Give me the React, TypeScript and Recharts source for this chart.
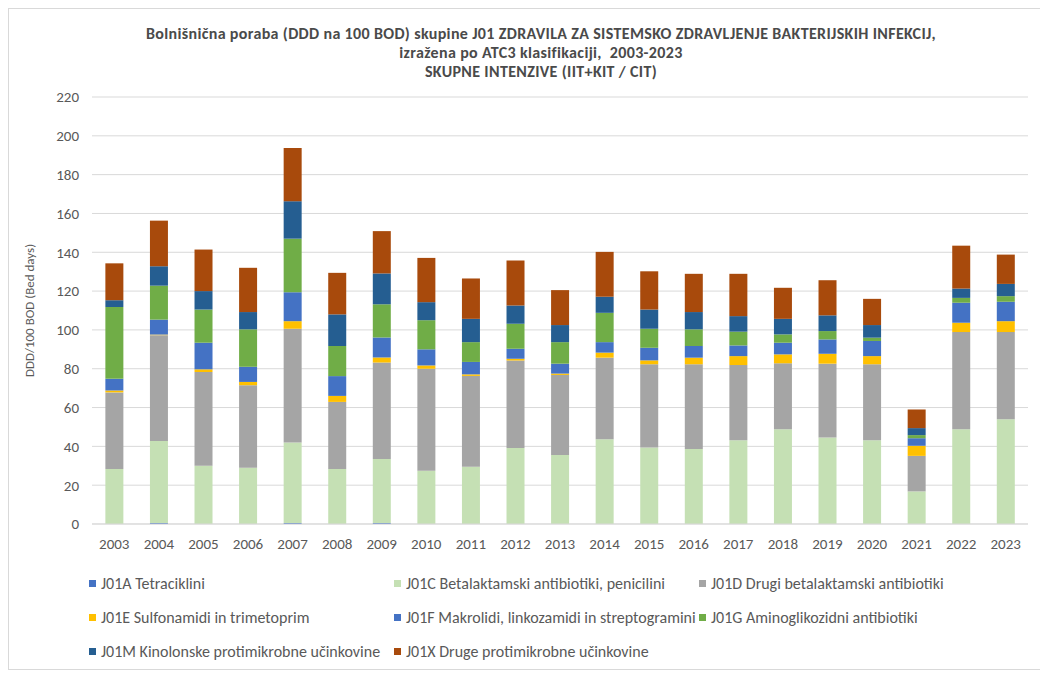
import React from 'react';
import { BarChart, Bar, XAxis, YAxis, CartesianGrid, Label } from 'recharts';

const years = ['2003','2004','2005','2006','2007','2008','2009','2010','2011','2012','2013','2014','2015','2016','2017','2018','2019','2020','2021','2022','2023'];
const j01a = [0, 0.5, 0, 0, 0.5, 0, 0.5, 0, 0, 0, 0, 0, 0, 0, 0, 0, 0, 0, 0, 0, 0];
const j01c = [28.3, 42.3, 30, 29, 41.5, 28.3, 33, 27.4, 29.5, 39.1, 35.5, 43.7, 39.4, 38.6, 43.2, 48.8, 44.6, 43.2, 16.8, 48.8, 54];
const j01d = [39.5, 54.5, 48.3, 42.5, 58.6, 34.6, 49.7, 52.6, 46.8, 45.2, 41.3, 42, 42.9, 43.7, 38.7, 34, 38, 39.1, 18.3, 50.1, 44.9];
const j01e = [1, 0.3, 1.4, 1.7, 3.9, 3.1, 2.6, 1.7, 0.8, 0.9, 0.7, 2.6, 2, 3.4, 4.6, 4.6, 5.1, 4.2, 5.2, 4.8, 5.6];
const j01f = [6, 7.7, 13.7, 7.8, 14.9, 10.2, 10.3, 8.3, 6.4, 5.1, 5.1, 5.4, 6.5, 6, 5.5, 6, 7.4, 7.8, 3.9, 10.3, 10];
const j01g = [37, 17.5, 17.1, 19.3, 27.6, 15.5, 17.1, 15, 10.2, 12.9, 11.1, 15.1, 9.8, 8.6, 7.1, 4.3, 4.3, 1.7, 1.6, 2.5, 2.9];
const j01m = [3.5, 10, 9.5, 8.9, 19.3, 16.3, 15.9, 9.3, 12, 9.4, 8.8, 8.3, 9.9, 8.9, 8, 8, 8.1, 6.5, 3.6, 4.8, 6.3];
const j01x = [19, 23.5, 21.4, 22.8, 27.4, 21.4, 21.8, 22.8, 20.8, 23.1, 18, 23.1, 19.7, 19.7, 21.8, 16, 18.1, 13.5, 9.6, 22.1, 15.1];

const yTicks = [0, 20, 40, 60, 80, 100, 120, 140, 160, 180, 200, 220];

const series = [
  { key: 'a', name: 'J01A Tetraciklini', color: '#4472C4', values: j01a },
  { key: 'c', name: 'J01C Betalaktamski antibiotiki, penicilini', color: '#C5E0B4', values: j01c },
  { key: 'd', name: 'J01D Drugi betalaktamski antibiotiki', color: '#A5A5A5', values: j01d },
  { key: 'e', name: 'J01E Sulfonamidi in trimetoprim', color: '#FFC000', values: j01e },
  { key: 'f', name: 'J01F Makrolidi, linkozamidi in streptogramini', color: '#4472C4', values: j01f },
  { key: 'g', name: 'J01G Aminoglikozidni antibiotiki', color: '#70AD47', values: j01g },
  { key: 'm', name: 'J01M Kinolonske protimikrobne učinkovine', color: '#255E91', values: j01m },
  { key: 'x', name: 'J01X Druge protimikrobne učinkovine', color: '#A84A0C', values: j01x },
];

const data = years.map((y, i) => {
  const row: any = { year: y };
  series.forEach(s => { row[s.key] = s.values[i]; });
  return row;
});

const font = 'Calibri, Carlito, Lato, "Open Sans", sans-serif';

export default function App() {
  return (
    <div style={{ position: 'relative', width: 1032, height: 660, border: '1px solid #d9d9d9', background: '#fff', fontFamily: font }}>
      <div style={{ position: 'absolute', top: 15, left: 0, width: 1064, textAlign: 'center', fontWeight: 'bold', fontSize: 16, lineHeight: '19px', letterSpacing: '0.35px', color: '#4a4a4a' }}>
        <div>Bolnišnična poraba (DDD na 100 BOD) skupine J01 ZDRAVILA ZA SISTEMSKO ZDRAVLJENJE BAKTERIJSKIH INFEKCIJ,</div>
        <div>izražena po ATC3 klasifikaciji,&nbsp; 2003-2023</div>
        <div>SKUPNE INTENZIVE (IIT+KIT / CIT)</div>
      </div>
      <BarChart width={1030} height={658} data={data} margin={{ top: 88, right: 11, bottom: 113, left: 0 }} barCategoryGap="30%">
        <CartesianGrid vertical={false} stroke="#d9d9d9" />
        <XAxis dataKey="year" height={30} tickLine={false} axisLine={{ stroke: '#d9d9d9' }} tick={{ fontSize: 15, fill: '#595959', fontFamily: font }} tickMargin={8} />
        <YAxis width={83} domain={[0, 220]} ticks={yTicks} tickLine={false} axisLine={false} tick={{ fontSize: 15, fill: '#595959', fontFamily: font }} tickMargin={7}>
          <Label value="DDD/100 BOD (Bed days)" angle={-90} position="insideLeft" offset={20} style={{ textAnchor: 'middle', fontSize: 13, fill: '#595959', fontFamily: font }} />
        </YAxis>
        {series.map(s => (
          <Bar key={s.key} dataKey={s.key} name={s.name} stackId="s" fill={s.color} isAnimationActive={false} />
        ))}
      </BarChart>
      <div style={{ position: 'absolute', top: 565, left: 80, display: 'grid', gridTemplateColumns: '305px 305px 305px', rowGap: 16, fontSize: 16, color: '#595959' }}>
        {series.map(s => (
          <div key={s.key} style={{ display: 'flex', alignItems: 'center', height: 18, whiteSpace: 'nowrap' }}>
            <span style={{ display: 'inline-block', width: 7, height: 7, background: s.color, marginRight: 5 }} />
            <span>{s.name}</span>
          </div>
        ))}
      </div>
    </div>
  );
}
